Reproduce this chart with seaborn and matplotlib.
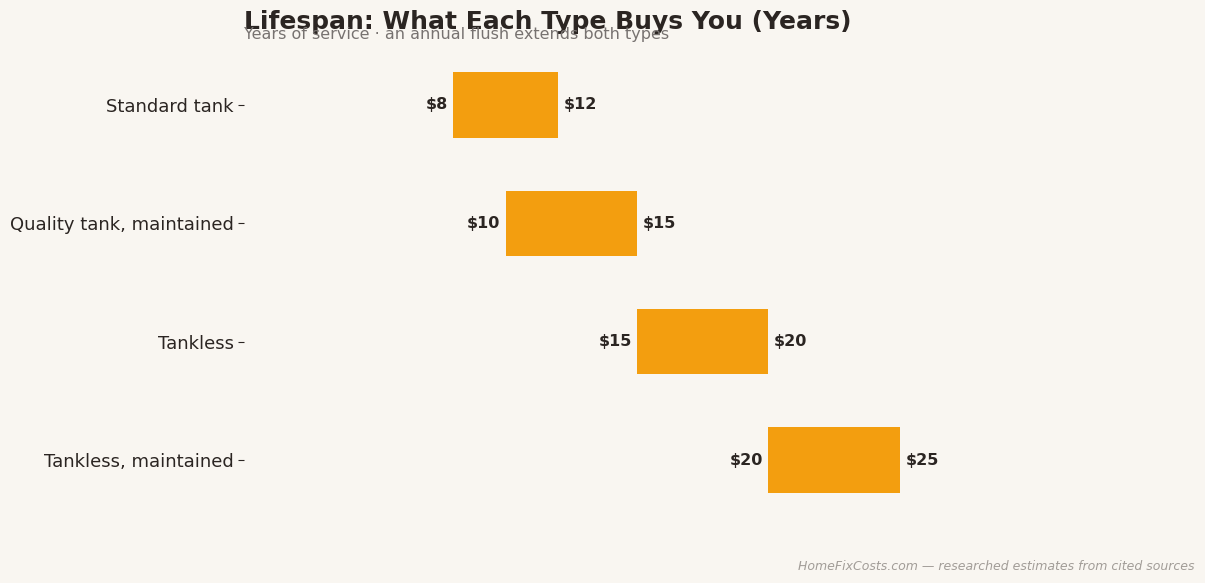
import numpy as np
import seaborn as sns
import matplotlib.pyplot as plt

categories = ["Standard tank", "Quality tank, maintained", "Tankless", "Tankless, maintained"]
low_years = [8, 10, 15, 20]
high_years = [12, 15, 20, 25]

BG = "#f9f6f1"
BAR = "#f39e0f"
INK = "#2b2522"

sns.set_theme(style="white")
plt.rcParams["font.family"] = ["DejaVu Sans"]

fig = plt.figure(figsize=(12.05, 5.83), dpi=100, facecolor=BG)
ax = fig.add_axes([243.5 / 1205, 1 - 531 / 583, (1195 - 243.5) / 1205, (531 - 34) / 583])
ax.set_facecolor(BG)

y = np.arange(len(categories))
widths = np.array(high_years) - np.array(low_years)
ax.barh(y, widths, left=low_years, height=0.55, color=BAR, edgecolor="none", linewidth=0)

for yi, lo, hi in zip(y, low_years, high_years):
    ax.annotate(f"${lo}", (lo, yi), xytext=(-4, 0), textcoords="offset points",
                ha="right", va="center", fontsize=11.5, fontweight="bold", color=INK)
    ax.annotate(f"${hi}", (hi, yi), xytext=(4, 0), textcoords="offset points",
                ha="left", va="center", fontsize=11.5, fontweight="bold", color=INK)

ax.set_xlim(0, 36.25)
ax.set_ylim(3.6, -0.6)
ax.set_yticks(y)
ax.set_yticklabels(categories, fontsize=13, color=INK)
ax.tick_params(axis="y", length=4, width=0.8, color=INK, left=True, pad=3)
ax.set_xticks([])
sns.despine(ax=ax, left=True, bottom=True)

fig.text(244 / 1205, 1 - 22 / 583, "Lifespan: What Each Type Buys You (Years)",
         fontsize=18, fontweight="bold", color=INK, ha="left", va="center")
fig.text(244 / 1205, 1 - 34 / 583, "Years of service · an annual flush extends both types",
         fontsize=11.5, color="#777270", ha="left", va="center")
fig.text(1195 / 1205, 1 - 566 / 583, "HomeFixCosts.com — researched estimates from cited sources",
         fontsize=9, style="italic", color="#a29d98", ha="right", va="center")

fig.savefig("out.png", dpi=100, facecolor=BG)
